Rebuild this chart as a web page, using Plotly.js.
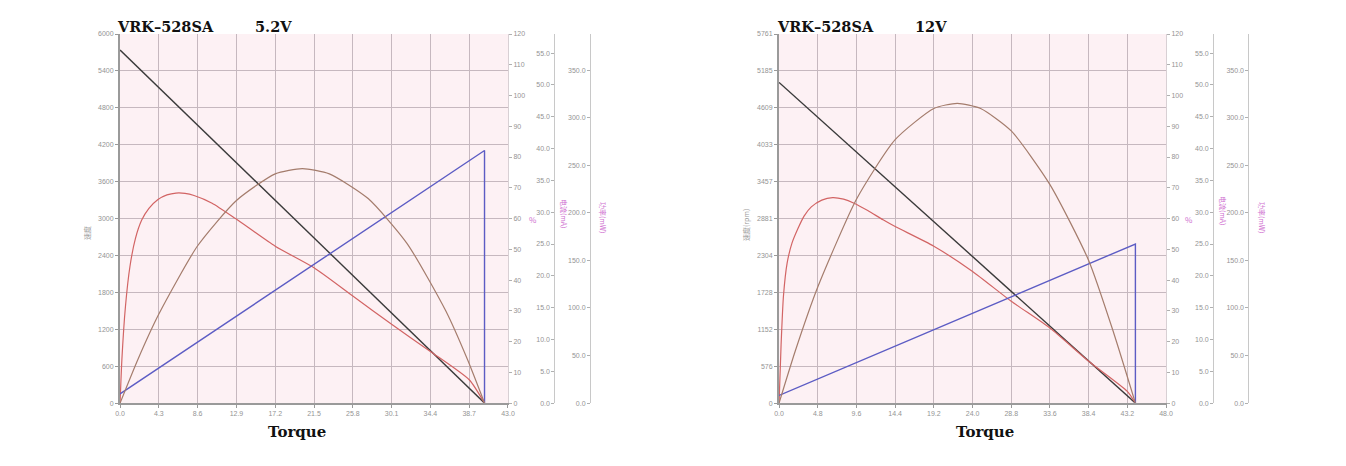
<!DOCTYPE html>
<html>
<head>
<meta charset="utf-8">
<script src="https://cdn.plot.ly/plotly-3.0.1.min.js"></script>
<style>
  html, body { margin: 0; padding: 0; background: #ffffff; }
  #chart { width: 1346px; height: 466px; }
</style>
</head>
<body>
<div id="chart"></div>
<script>
// Motor curves for VRK-528SA at 5.2V and 12V.

// ── 5.2V ───────────────────────────────────────────────────────────────────
const X_TICKS_52     = [0, 4.3, 8.6, 12.9, 17.2, 21.5, 25.8, 30.1, 34.4, 38.7, 43.0];
const SPEED_TICKS_52 = [0, 600, 1200, 1800, 2400, 3000, 3600, 4200, 4800, 5400, 6000];

const SPEED_T_52   = [0, 40.4];
const SPEED_52     = [5740, 0];
const CURRENT_T_52 = [0, 40.4, 40.4];
const CURRENT_52   = [1.45, 39.7, 0];
const EFF_T_52     = [0, 0.2, 0.6, 1.1, 1.7, 2.4, 3.2, 4.2, 5.2, 6.2, 7.2, 8.2, 10.2, 12.8, 17.2, 21.5, 25.8, 30.1, 34.4, 38.7, 40.4];
const EFF_52       = [0, 14.0, 31.5, 44.5, 53.5, 59.5, 63.3, 66.2, 67.7, 68.3, 68.2, 67.5, 65.0, 60.0, 51.0, 44.0, 34.8, 25.6, 16.8, 7.6, 0];
const POWER_T_52   = [0, 2.0, 4.3, 8.6, 12.9, 17.2, 20.2, 23.2, 27.5, 31.8, 36.1, 38.5, 40.4];
const POWER_52     = [0, 46.4, 93.6, 165.4, 213.0, 241.0, 246.5, 241.0, 215.0, 168.0, 97.0, 46.0, 0];

// ── 12V ────────────────────────────────────────────────────────────────────
const X_TICKS_12     = [0, 4.8, 9.6, 14.4, 19.2, 24.0, 28.8, 33.6, 38.4, 43.2, 48.0];
const SPEED_TICKS_12 = [0, 576, 1152, 1728, 2304, 2881, 3457, 4033, 4609, 5185, 5761];

const SPEED_T_12   = [0, 44.2];
const SPEED_12     = [5005, 0];
const CURRENT_T_12 = [0, 44.2, 44.2];
const CURRENT_12   = [1.2, 25.0, 0];
const EFF_T_12     = [0, 0.25, 0.55, 1.0, 1.6, 2.3, 3.1, 4.0, 5.3, 6.65, 8.0, 9.3, 11.0, 12.9, 14.4, 19.2, 24.0, 28.8, 33.6, 38.4, 43.2, 44.2];
const EFF_12       = [0, 19.0, 35.0, 45.5, 52.0, 56.5, 60.8, 63.8, 66.0, 66.8, 66.3, 65.0, 62.6, 59.6, 57.4, 51.0, 42.8, 33.1, 24.4, 13.6, 3.8, 0];
const POWER_T_12   = [0, 2.0, 4.8, 9.6, 14.4, 19.2, 22.1, 25.0, 28.8, 33.6, 38.4, 41.5, 44.2];
const POWER_12     = [0, 54.5, 122.0, 214.3, 276.9, 309.7, 315.1, 309.7, 286.1, 229.7, 150.0, 74.0, 0];

const COLORS = {
  speed:   '#3a3a3a',
  current: '#5c5cc4',
  eff:     '#d26464',
  power:   '#a47c6c',
  grid:    '#c6b8bf',
  axis:    '#9a9a9a',
  tick:    '#949494',
  label:   '#cf6fd0',
};

const TICK_FONT = { family: 'Liberation Sans, Arial, sans-serif', size: 7, color: COLORS.tick };
const Y_DOMAIN  = [0.135, 0.927];

// Shared style for the small overlay scales
function sideAxis(overrides) {
  return Object.assign({
    overlaying: 'y',
    showgrid: false,
    zeroline: false,
    showline: true,
    linecolor: '#c8c8c8',
    linewidth: 1,
    ticks: 'outside',
    ticklen: 3,
    tickcolor: '#b0b0b0',
    tickfont: TICK_FONT,
    fixedrange: true,
  }, overrides);
}

function curve(x, y, xa, ya, color, width, spline) {
  return {
    type: 'scatter', mode: 'lines', x, y, xaxis: xa, yaxis: ya,
    line: { color, width, shape: spline ? 'spline' : 'linear', smoothing: 0.6 },
    hoverinfo: 'skip', showlegend: false,
  };
}

const traces = [
  curve(EFF_T_52,     EFF_52,     'x',  'y2', COLORS.eff,     1.2, true),
  curve(POWER_T_52,   POWER_52,   'x',  'y4', COLORS.power,   1.2, true),
  curve(CURRENT_T_52, CURRENT_52, 'x',  'y3', COLORS.current, 1.4, false),
  curve(SPEED_T_52,   SPEED_52,   'x',  'y',  COLORS.speed,   1.4, false),

  curve(EFF_T_12,     EFF_12,     'x2', 'y6', COLORS.eff,     1.2, true),
  curve(POWER_T_12,   POWER_12,   'x2', 'y8', COLORS.power,   1.2, true),
  curve(CURRENT_T_12, CURRENT_12, 'x2', 'y7', COLORS.current, 1.4, false),
  curve(SPEED_T_12,   SPEED_12,   'x2', 'y5', COLORS.speed,   1.4, false),
];

function xAxis(domain, ticks, anchor) {
  return {
    domain, anchor, range: [0, ticks[ticks.length - 1]],
    tickvals: ticks, ticktext: ticks.map(v => v.toFixed(1)),
    showgrid: true, gridcolor: COLORS.grid, gridwidth: 1,
    zeroline: false, showline: true, linecolor: COLORS.axis, linewidth: 2,
    ticks: 'outside', ticklen: 3, tickcolor: COLORS.axis,
    tickfont: TICK_FONT, fixedrange: true,
  };
}

function speedAxis(ticks, anchor) {
  return {
    domain: Y_DOMAIN, anchor, range: [0, ticks[ticks.length - 1]],
    tickvals: ticks, ticktext: ticks.map(String),
    showgrid: true, gridcolor: COLORS.grid, gridwidth: 1,
    zeroline: false, showline: true, linecolor: COLORS.axis, linewidth: 2,
    ticks: 'outside', ticklen: 3, tickcolor: COLORS.axis,
    tickfont: TICK_FONT, fixedrange: true,
  };
}

const TITLE_FONT = { family: 'DejaVu Serif, serif', size: 14.5, color: '#111111', weight: 'bold' };
const AXIS_TITLE_FONT = { family: 'Noto Sans CJK SC, sans-serif', size: 7, color: '#9a9a9a' };
const PURPLE_FONT = { family: 'Noto Sans CJK SC, sans-serif', size: 7, color: COLORS.label };

function note(text, x, y, font, extra) {
  return Object.assign({
    text, x: x / 1346, y: 1 - y / 466, xref: 'paper', yref: 'paper',
    showarrow: false, font, xanchor: 'center', yanchor: 'middle',
  }, extra || {});
}

const annotations = [
  note('<b>VRK–528SA</b>', 115, 26, TITLE_FONT, { xanchor: 'left' }),
  note('<b>5.2V</b>',      253, 26, TITLE_FONT, { xanchor: 'left' }),
  note('<b>VRK–528SA</b>', 775, 26, TITLE_FONT, { xanchor: 'left' }),
  note('<b>12V</b>',       913, 26, TITLE_FONT, { xanchor: 'left' }),
  note('<b>Torque</b>', 297, 432, Object.assign({}, TITLE_FONT, { size: 15 })),
  note('<b>Torque</b>', 985, 432, Object.assign({}, TITLE_FONT, { size: 15 })),

  note('速度',      87, 233, AXIS_TITLE_FONT, { textangle: -90 }),
  note('速度(rpm)', 746, 225, AXIS_TITLE_FONT, { textangle: -90 }),

  note('%',        533, 219, Object.assign({}, PURPLE_FONT, { size: 8 })),
  note('电流(mA)', 564, 213, PURPLE_FONT, { textangle: 90 }),
  note('功率(mW)', 603, 217, PURPLE_FONT, { textangle: 90 }),
  note('%',        1189, 219, Object.assign({}, PURPLE_FONT, { size: 8 })),
  note('电流(mA)', 1223, 210, PURPLE_FONT, { textangle: 90 }),
  note('功率(mW)', 1262, 217, PURPLE_FONT, { textangle: 90 }),
];

const layout = {
  width: 1346, height: 466,
  margin: { l: 0, r: 0, t: 0, b: 0 },
  paper_bgcolor: '#ffffff',
  plot_bgcolor: '#fdf1f4',
  showlegend: false,

  xaxis:  xAxis([0.0892, 0.3774], X_TICKS_52, 'y'),
  yaxis:  speedAxis(SPEED_TICKS_52, 'x'),
  yaxis2: sideAxis({ anchor: 'x', side: 'right', range: [0, 120], dtick: 10, linecolor: '#d8d0d4' }),
  yaxis3: sideAxis({ anchor: 'free', side: 'left', position: 0.4118, range: [0, 58], dtick: 5, tickformat: '.1f' }),
  yaxis4: sideAxis({ anchor: 'free', side: 'left', position: 0.4383, range: [0, 388], dtick: 50, tickformat: '.1f' }),

  xaxis2: xAxis([0.5788, 0.8663], X_TICKS_12, 'y5'),
  yaxis5: speedAxis(SPEED_TICKS_12, 'x2'),
  yaxis6: sideAxis({ overlaying: 'y5', anchor: 'x2', side: 'right', range: [0, 120], dtick: 10, linecolor: '#d8d0d4' }),
  yaxis7: sideAxis({ overlaying: 'y5', anchor: 'free', side: 'left', position: 0.9012, range: [0, 58], dtick: 5, tickformat: '.1f' }),
  yaxis8: sideAxis({ overlaying: 'y5', anchor: 'free', side: 'left', position: 0.9275, range: [0, 388], dtick: 50, tickformat: '.1f' }),

  annotations,
};

Plotly.newPlot('chart', traces, layout, { displayModeBar: false, staticPlot: true });
</script>
</body>
</html>
